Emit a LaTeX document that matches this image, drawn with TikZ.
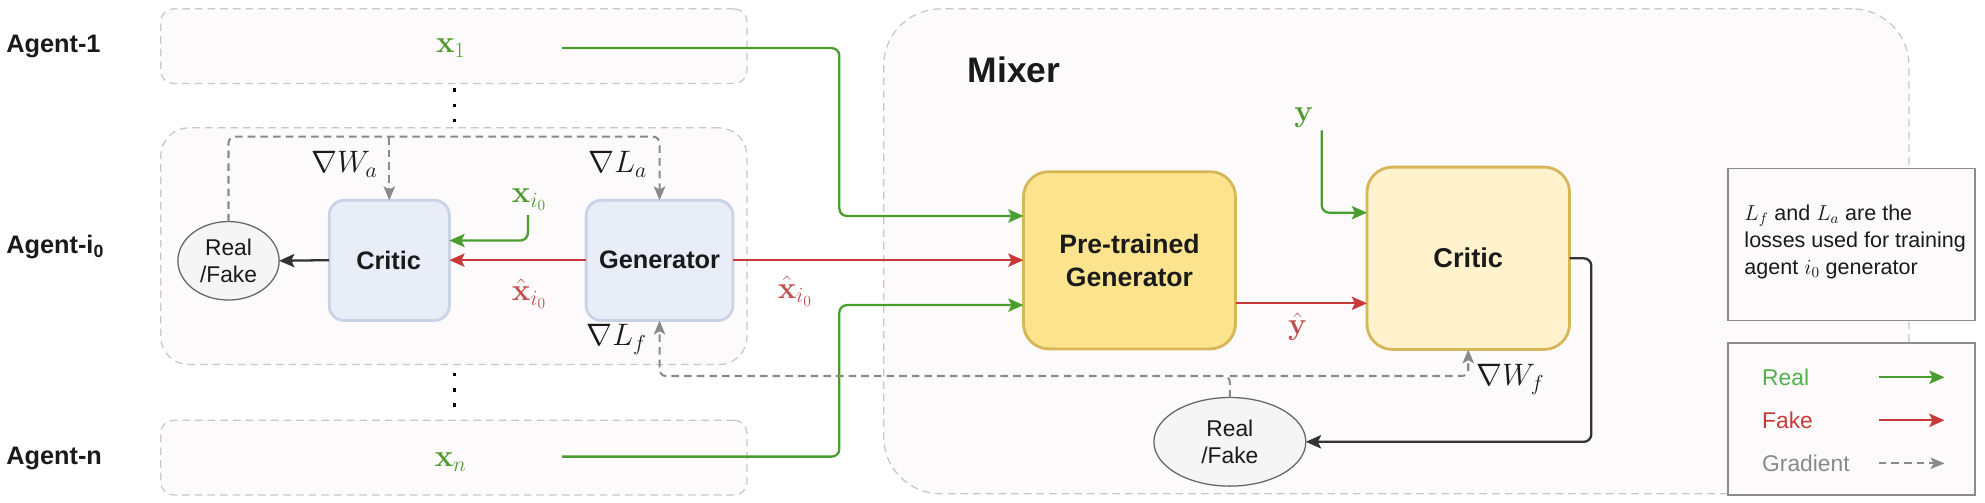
\RequirePackage{fix-cm}
\documentclass[tikz,border=0pt]{standalone}
\usepackage[no-math]{fontspec}
\setmainfont{Liberation Sans}
\usetikzlibrary{arrows.meta,shapes.geometric,calc}
\definecolor{cont}{HTML}{C8C8C8}
\definecolor{contfill}{HTML}{FCFAFA}
\definecolor{realc}{HTML}{4A9E30}
\definecolor{reallab}{HTML}{4E9A2E}
\definecolor{fakec}{HTML}{C83A3A}
\definecolor{fakelab}{HTML}{C0504D}
\definecolor{gradc}{HTML}{8A8A8A}
\definecolor{blkc}{HTML}{333333}
\definecolor{bluefill}{HTML}{E9EDF7}
\definecolor{bluedraw}{HTML}{C9D3E6}
\definecolor{ylwa}{HTML}{FCE38D}
\definecolor{ylwb}{HTML}{FFF2CC}
\definecolor{ylwdraw}{HTML}{D6B656}
\definecolor{circfill}{HTML}{F5F5F5}
\definecolor{circdraw}{HTML}{666666}
\definecolor{notedraw}{HTML}{8C8C8C}
\definecolor{txt}{HTML}{1A1A1A}
\definecolor{legreal}{HTML}{52B04A}
\begin{document}
\begin{tikzpicture}[x=1pt,y=-1pt,
  every node/.style={inner sep=0pt, outer sep=0pt},
  cbox/.style={draw=cont, line width=1pt, dash pattern=on 6pt off 4pt, fill=contfill, rounded corners=#1},
  cbox/.default=10pt,
  bluebox/.style={draw=bluedraw, line width=2.2pt, fill=bluefill, rounded corners=12pt},
  ybox/.style={draw=ylwdraw, line width=2.2pt, rounded corners=20pt},
  rf/.style={draw=circdraw, line width=1pt, fill=circfill, ellipse, align=center, text=txt, font=\fontsize{18}{21}\selectfont},
  lab/.style={font=\fontsize{20}{24}\selectfont\bfseries, text=txt},
  mth/.style={font=\fontsize{24.5}{28}\selectfont, text=txt},
  con/.style={line width=1.8pt, rounded corners=6pt, -{Stealth[length=12pt,width=10.5pt,inset=2.5pt]}},
  real/.style={con, draw=realc},
  fake/.style={con, draw=fakec},
  blk/.style={con, draw=blkc},
  grad/.style={line width=1.6pt, draw=gradc, dash pattern=on 6pt off 4pt, rounded corners=5pt, -{Stealth[length=11pt,width=9pt,inset=2.5pt]}},
  dotline/.style={line width=3pt, dash pattern=on 2.6pt off 9.4pt}
]
\useasboundingbox (0,0) rectangle (1568,397);
\fill[white] (0,0) rectangle (1568,397);

% containers
\node[cbox=45pt, minimum width=810pt, minimum height=383pt] (mixer) at (1103,198.5) {};
\node[cbox=10pt, minimum width=463pt, minimum height=59pt] (ag1) at (358.5,36.5) {};
\node[cbox=22pt, minimum width=463pt, minimum height=187pt] (agi) at (358.5,194.5) {};
\node[cbox=10pt, minimum width=463pt, minimum height=59pt] (agn) at (358.5,361.5) {};

% agent labels
\node[lab, anchor=west] (ag1lab) at (5,37) {Agent-1};
\node[lab, anchor=west] (agilab) at (5,195) {Agent-i\textsubscript{0}};
\node[lab, anchor=west] (agnlab) at (5,362) {Agent-n};
\node[font=\fontsize{28}{32}\selectfont\bfseries, text=txt] (mixlab) at (801,55) {Mixer};

% agent i0 blocks
\node[bluebox, minimum width=95pt, minimum height=95pt] (lcritic) at (307.5,205.7) {};
\node[bluebox, minimum width=116pt, minimum height=95pt] (lgen) at (521,205.7) {};
\node[lab] (lcrt) at (307,205.5) {Critic};
\node[lab] (lgnt) at (521,205.5) {Generator};
\node[rf, minimum width=80pt, minimum height=62pt] (lcircle) at (180.5,206) {Real\\/Fake};

% mixer blocks
\node[ybox, fill=ylwa, minimum width=167.5pt, minimum height=140pt, align=center, text=txt, font=\fontsize{21}{26.5}\selectfont\bfseries] (pgen) at (892.2,205.6) {Pre-trained\\Generator};
\node[ybox, fill=ylwb, minimum width=160pt, minimum height=144pt, text=txt, font=\fontsize{21.5}{25}\selectfont\bfseries] (mcritic) at (1159.8,204) {Critic};
\node[rf, minimum width=120pt, minimum height=70pt] (mcircle) at (971.5,349) {Real\\/Fake};

% math labels
\node[mth, text=reallab] (x1) at (356,38) {$\mathbf{x}_1$};
\node[mth, text=reallab] (xio) at (418,158) {$\mathbf{x}_{i_0}$};
\node[mth, text=fakelab] (xhl) at (418,232) {$\hat{\mathbf{x}}_{i_0}$};
\node[mth, text=fakelab] (xhr) at (628,230) {$\hat{\mathbf{x}}_{i_0}$};
\node[mth] (gwa) at (272,130) {$\nabla W_a$};
\node[mth] (gla) at (488,130) {$\nabla L_a$};
\node[mth] (glf) at (487,268) {$\nabla L_f$};
\node[mth, text=reallab] (ylab) at (1030,93) {$\mathbf{y}$};
\node[mth, text=fakelab] (yhat) at (1025,258) {$\hat{\mathbf{y}}$};
\node[mth] (gwf) at (1193,300) {$\nabla W_f$};
\node[mth, text=reallab] (xn) at (356,365) {$\mathbf{x}_n$};

% dots
\draw[dotline] (359,69.8) -- (359,97);
\draw[dotline] (359,294.7) -- (359,322);

% connectors
\coordinate (x1s) at (444,38);
\coordinate (xns) at (444,360.7);
\coordinate (xios) at (417,170);
\coordinate (ys) at (1044,103);
\coordinate (gj) at (971.5,297);
\coordinate (pgo) at ([yshift=-34pt]pgen.east);

\draw[real] (x1s) -| (663,170.6) -- ([yshift=35pt]pgen.west);
\draw[real] (xns) -| (663,241) -- ([yshift=-35.4pt]pgen.west);
\draw[real] (xios) |- ([yshift=15.7pt]lcritic.east);
\draw[fake] (lgen.west |- lcrt) -- (lcritic.east |- lcrt);
\draw[blk] (lcritic.west |- lcrt) -- (lcircle.east);
\draw[fake] (lgen.east |- lgnt) -- (pgen.west |- lgnt);
\draw[real] (ys) |- ([yshift=36pt]mcritic.west);
\draw[fake] (pgo) -- (mcritic.west |- pgo);
\draw[blk] (mcritic.east) -| (1257,349) -- (mcircle.east);

\draw[grad] (lcircle.north) -- ++(0,-67) -| (lgen.north);
\draw[grad] ([yshift=50pt]lcritic.north) -- (lcritic.north);
\draw[grad] (mcircle.north) -- (gj) -| (lgen.south);
\draw[grad] (gj) -| (mcritic.south);

% note
\node[draw=notedraw, line width=1.2pt, fill=contfill, minimum width=195pt, minimum height=120pt] (note) at (1462.5,193) {};
\node[anchor=west, align=left, font=\fontsize{17}{21.5}\selectfont, text=txt] (notetxt) at (1378,191) {$L_f$ and $L_a$ are the\\losses used for training\\agent $i_0$ generator};

% legend
\node[draw=notedraw, line width=1.2pt, fill=contfill, minimum width=195pt, minimum height=120pt] (legend) at (1462.5,331) {};
\node[anchor=west, font=\fontsize{18}{21}\selectfont, text=legreal] (lgr) at (1392,298) {Real};
\node[anchor=west, font=\fontsize{18}{21}\selectfont, text=fakec] (lgf) at (1392,332) {Fake};
\node[anchor=west, font=\fontsize{18}{21}\selectfont, text=gradc] (lgg) at (1392,366) {Gradient};
\coordinate (lra) at (1484,298); \coordinate (lrb) at (1536,298);
\coordinate (lfa) at (1484,332); \coordinate (lfb) at (1536,332);
\coordinate (lga) at (1484,366); \coordinate (lgb) at (1536,366);
\draw[real] (lra) -- (lrb);
\draw[fake] (lfa) -- (lfb);
\draw[grad] (lga) -- (lgb);
\end{tikzpicture}
\end{document}
